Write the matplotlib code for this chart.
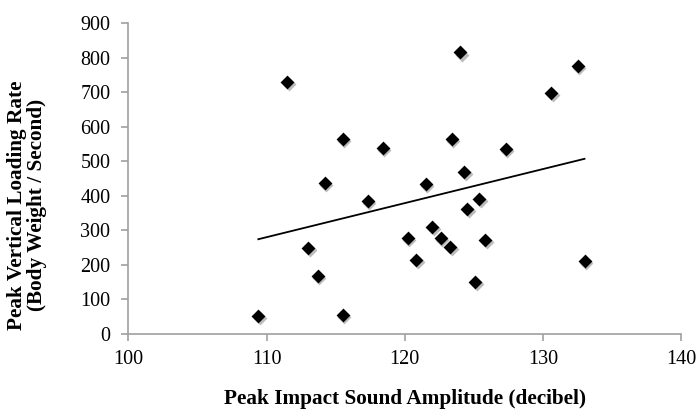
import matplotlib.pyplot as plt
import numpy as np

plt.rcParams['font.family'] = ['Liberation Serif', 'DejaVu Serif']

# sound amplitude (dB) and loading rate (BW/s)
amplitude = [111.5, 115.5, 118.4, 114.2, 117.3, 120.2, 113.0, 120.8, 113.7, 109.4,
             115.5, 124.0, 132.5, 130.6, 123.4, 127.3, 124.3, 121.5, 125.4, 124.5,
             122.0, 122.6, 123.3, 125.8, 133.0, 125.1]
loading = [729, 566, 540, 436, 386, 279, 250, 215, 167, 51,
           55, 816, 778, 698, 564, 537, 468, 434, 392, 363,
           310, 278, 252, 271, 210, 151]

fig = plt.figure(figsize=(6.98, 4.12), dpi=100)
ax = fig.add_axes([0.184, 0.19, 0.792, 0.753])

x = np.array(amplitude)
y = np.array(loading)

# shadow then marker
ax.scatter(x + 0.12, y - 6, marker='D', s=50, color='#bbbbbb', linewidths=0, zorder=2)
ax.scatter(x, y, marker='D', s=50, color='black', linewidths=0, zorder=3)

# linear trend line
k, b = np.polyfit(x, y, 1)
xt = np.array([x.min(), x.max()])
ax.plot(xt, k * xt + b, color='black', lw=1.3, zorder=2)

ax.set_xlim(100, 140)
ax.set_ylim(0, 900)
ax.set_xticks(range(100, 141, 10))
ax.set_yticks(range(0, 901, 100))

for s in ['top', 'right']:
    ax.spines[s].set_visible(False)
for s in ['left', 'bottom']:
    ax.spines[s].set_color('#a0a0a0')
    ax.spines[s].set_linewidth(1.2)
ax.tick_params(colors='#a0a0a0', labelcolor='black', labelsize=14.5, length=5, width=1.2)
ax.tick_params(axis='y', pad=8)
ax.tick_params(axis='x', pad=7)

ax.set_xlabel('Peak Impact Sound Amplitude (decibel)', fontsize=15.3, fontweight='bold', labelpad=14)
ax.set_ylabel('Peak Vertical Loading Rate\n(Body Weight / Second)', fontsize=15.3,
              fontweight='bold', linespacing=1.0)
ax.yaxis.set_label_coords(-0.148, 0.415)

fig.savefig('out.png', dpi=100)
